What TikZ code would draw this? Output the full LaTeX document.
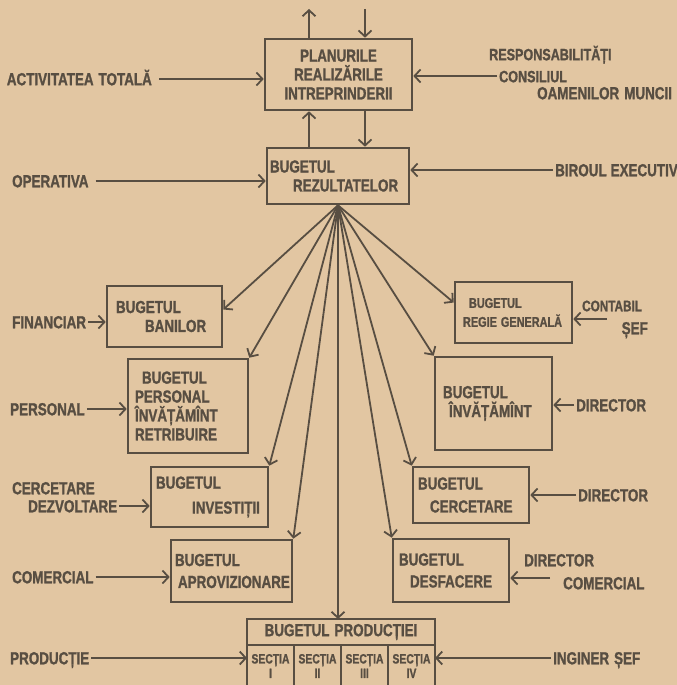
\documentclass[tikz,border=0pt]{standalone}
\usepackage{fontspec}
\setmainfont{Liberation Sans}[FakeStretch=0.77, BoldFeatures={FakeBold=1.2}]
\usepackage{xcolor}
\definecolor{orgpaper}{RGB}{226,198,162}
\definecolor{orgink}{RGB}{88,78,66}
\usetikzlibrary{arrows.meta,positioning,calc}
\hfuzz=40pt \hbadness=10000

\tikzset{
  bx/.style={draw=orgink, line width=2.6bp, text=orgink, align=left, inner ysep=2bp,
    font=\bfseries\fontsize{17.5}{19}\selectfont},
  lbl/.style={text=orgink, inner sep=2bp, text height=12.5bp, text depth=0bp,
    font=\bfseries\fontsize{17.5}{19}\selectfont},
  sec/.style={bx, align=center, outer sep=0pt, text width=43bp, inner xsep=2bp,
    minimum height=42bp, font=\bfseries\fontsize{13.5}{14.5}\selectfont},
  arr/.style={draw=orgink, line width=1.8bp, -{Straight Barb[length=6bp,width=13bp]}}
}

\begin{document}
\begin{tikzpicture}[x=1bp, y=-1bp]
  \useasboundingbox (0,0) rectangle (677,685);
  \fill[orgpaper] (0,0) rectangle (677,685);
  \clip (0,0) rectangle (677,685);

  % top of the scheme
  \node[bx, align=center, text width=137bp, inner xsep=5bp, minimum height=71bp] (plan) at (338.5,74.5)
    {PLANURILE\\REALIZĂRILE\\INTREPRINDERII};
  \node[bx, text width=136bp, inner xsep=3bp, minimum height=56bp] (rez) at (338,176)
    {BUGETUL\\\hspace*{23bp}REZULTATELOR};

  % left column
  \node[bx, text width=97bp, inner xsep=9bp, minimum height=61bp] (ban) at (164.5,316.5)
    {BUGETUL\\\hspace*{29bp}BANILOR};
  \node[bx, text width=106bp, inner xsep=7bp, minimum height=94bp] (pers) at (188,406)
    {\hspace*{7bp}BUGETUL\\PERSONAL\\ÎNVĂȚĂMÎNT\\RETRIBUIRE};
  \node[bx, text width=107bp, inner xsep=5bp, minimum height=60bp] (inv) at (209.5,497)
    {BUGETUL\\[6bp]\hspace*{36bp}INVESTIȚII};
  \node[bx, text width=113bp, inner xsep=4bp, minimum height=62bp] (apro) at (231.5,571)
    {BUGETUL\\[3bp]\hspace*{3bp}APROVIZIONARE};

  % right column
  \node[bx, text width=101bp, inner xsep=8bp, minimum height=61bp,
    font=\bfseries\fontsize{14.2}{19}\selectfont] (regie) at (513.5,312.5)
    {\hspace*{6bp}BUGETUL\\REGIE\hspace{4bp}GENERALĂ};
  \node[bx, text width=101bp, inner xsep=8bp, minimum height=93bp] (invm) at (493.5,403.5)
    {BUGETUL\\\hspace*{6bp}ÎNVĂȚĂMÎNT};
  \node[bx, text width=106bp, inner xsep=5bp, minimum height=56bp] (cerc) at (471,495)
    {BUGETUL\\[4bp]\hspace*{12bp}CERCETARE};
  \node[bx, text width=104bp, inner xsep=6bp, minimum height=63bp] (desf) at (451,570.5)
    {BUGETUL\\[3bp]\hspace*{11bp}DESFACERE};

  % production
  \node[bx, align=center, outer sep=0pt, text width=180bp, inner xsep=4bp, minimum height=26bp] (prod) at (341,632)
    {BUGETUL\hspace{5bp}PRODUCȚIEI};
  \node[sec, anchor=north west] (s1) at (prod.south west) {SECȚIA\\I};
  \node[sec, right=0pt of s1] (s2) {SECȚIA\\II};
  \node[sec, right=0pt of s2] (s3) {SECȚIA\\III};
  \node[sec, right=0pt of s3] (s4) {SECȚIA\\IV};

  % inputs, left
  \node[lbl, anchor=east] (lact) at (154,79) {ACTIVITATEA\hspace{5bp}TOTALĂ};
  \node[lbl, anchor=west] (lop) at (10,181) {OPERATIVA};
  \node[lbl, anchor=west] (lfin) at (10,322) {FINANCIAR};
  \node[lbl, anchor=west] (lpers) at (8,409) {PERSONAL};
  \node[lbl, anchor=west] (lcer) at (10,488) {CERCETARE};
  \node[lbl, anchor=west] (ldez) at (26,506) {DEZVOLTARE};
  \node[lbl, anchor=west] (lcom) at (10,577) {COMERCIAL};
  \node[lbl, anchor=west] (lprd) at (8,658) {PRODUCȚIE};

  % inputs, right
  \node[lbl, anchor=west, font=\bfseries\fontsize{16.4}{19}\selectfont] (lresp) at (487,54) {RESPONSABILITĂȚI};
  \node[lbl, anchor=west, font=\bfseries\fontsize{16.4}{19}\selectfont] (lcons) at (497,76) {CONSILIUL};
  \node[lbl, anchor=west] (loam) at (535,93) {OAMENILOR\hspace{5bp}MUNCII};
  \node[lbl, anchor=west] (lbir) at (553,170) {BIROUL\hspace{4bp}EXECUTIV};
  \node[lbl, anchor=west, font=\bfseries\fontsize{15.3}{19}\selectfont] (lcont) at (580,305) {CONTABIL};
  \node[lbl, anchor=east] (lsef) at (650,328) {ȘEF};
  \coordinate (csef) at (607,319);
  \node[lbl, anchor=west] (ldir1) at (574,405) {DIRECTOR};
  \node[lbl, anchor=west] (ldir2) at (576,495) {DIRECTOR};
  \node[lbl, anchor=west] (ldir3) at (522,560) {DIRECTOR};
  \node[lbl, anchor=west] (lcomr) at (561,583) {COMERCIAL};
  \coordinate (cdesf) at (550,578);
  \node[lbl, anchor=west] (ling) at (551,658) {INGINER\hspace{5bp}ȘEF};

  % plan <-> results
  \coordinate (up) at (309,9);
  \coordinate (dn) at (365,9);
  \draw[arr] (plan.north -| up) -- (up);
  \draw[arr] (dn) -- (plan.north -| dn);
  \draw[arr] (rez.north -| up) -- (plan.south -| up);
  \draw[arr] (plan.south -| dn) -- (rez.north -| dn);

  % fan out of the results budget
  \coordinate (tban) at ([yshift=7bp]ban.east);
  \coordinate (treg) at ([yshift=10bp]regie.west);
  \coordinate (tprod) at (rez.south |- prod.north);
  \foreach \t in {tban, pers.north east, inv.north east, apro.north east, tprod,
                  desf.north west, cerc.north west, invm.north west, treg}
    \draw[arr] (rez.south) -- (\t);

  % input arrows
  \draw[arr, shorten <=5bp] (lact.east) -- (lact.east -| plan.west);
  \draw[arr] (lcons.west) -- (lcons.west -| plan.east);
  \draw[arr, shorten <=5bp] (lop.east) -- (lop.east -| rez.west);
  \draw[arr] (lbir.west) -- (lbir.west -| rez.east);
  \draw[arr] (lfin.east) -- (lfin.east -| ban.west);
  \draw[arr] (lpers.east) -- (lpers.east -| pers.west);
  \draw[arr] (ldez.east) -- (ldez.east -| inv.west);
  \draw[arr] (lcom.east) -- (lcom.east -| apro.west);
  \draw[arr] (lprd.east) -- (lprd.east -| s1.west);
  \draw[arr] (csef) -- (csef -| regie.east);
  \draw[arr] (ldir1.west) -- (ldir1.west -| invm.east);
  \draw[arr] (ldir2.west) -- (ldir2.west -| cerc.east);
  \draw[arr] (cdesf) -- (cdesf -| desf.east);
  \draw[arr] (ling.west) -- (ling.west -| s4.east);
\end{tikzpicture}
\end{document}
